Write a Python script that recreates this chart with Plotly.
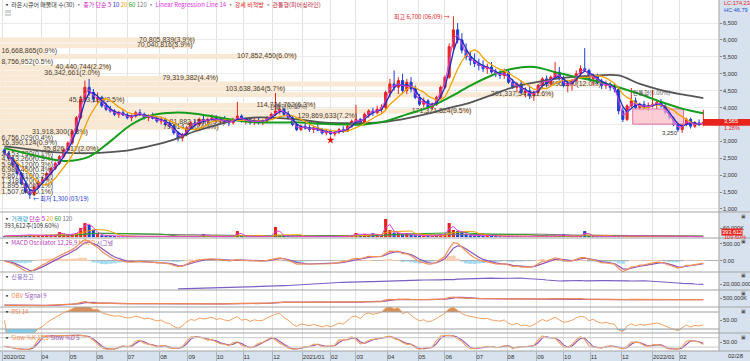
import numpy as np
import pandas as pd
import plotly.graph_objects as go
from plotly.subplots import make_subplots

# ---------------- data ----------------
tick_days = [0, 27, 47, 66, 88, 111, 131, 151, 170, 191, 212, 232, 250, 272, 294, 313, 335, 357, 378, 397, 416, 438, 460, 479]
tick_text = ["2020/02", "04", "05", "06", "07", "08", "09", "10", "11", "12", "2021/01", "02", "03",
             "04", "05", "06", "07", "08", "09", "10", "11", "12", "2022/01", "02"]

opens = [2750, 2650, 2500, 2300, 2050, 1750, 1500, 1420, 1650, 1800,
         1880, 2050, 2200, 2350, 2550, 2750, 2950, 3300, 3700, 4250,
         4600, 4450, 4250, 4300, 4050, 3950, 3900, 3800, 3850, 3780,
         3700, 3750, 3850, 3800, 3700, 3750, 3680, 3600, 3650, 3500,
         3450, 3250, 3100, 3200, 3400, 3550, 3500, 3650, 3600, 3650,
         3700, 3600, 3650, 3580, 3550, 3650, 3750, 3600, 3650, 3550,
         3620, 3580, 3600, 3700, 3800, 3900, 3950, 3800, 3700, 3500,
         3350, 3450, 3400, 3350, 3400, 3330, 3250, 3300, 3220, 3280,
         3350, 3300, 3450, 3600, 3650, 3550, 3800, 3900, 3850, 3950,
         4000, 4450, 4700, 4600, 4800, 4500, 4750, 4550, 4300, 4100,
         4200, 4000, 4100, 4300, 4600, 4900, 5800, 6300, 6000, 5700,
         5500, 5400, 5300, 5250, 5150, 5200, 5050, 5000, 4950, 5050,
         4750, 4600, 4700, 4450, 4500, 4350, 4450, 4650, 4850, 4700,
         4900, 5050, 4850, 4650, 4700, 4800, 5000, 5150, 5100, 4850,
         4950, 4750, 4650, 4700, 4600, 4550, 3900, 3650, 4050, 4200,
         4000, 4100, 4000, 4050, 4100, 4150, 4050, 3850, 3700, 3500,
         3350, 3500, 3650, 3450, 3550, 3500]
highs = [2800, 2700, 2550, 2350, 2100, 1800, 1560, 1700, 1850, 1950,
         2100, 2250, 2400, 2600, 2800, 3000, 3350, 3750, 4350, 4800,
         4850, 4550, 4450, 4350, 4150, 4050, 3950, 3900, 3950, 3850,
         3800, 3900, 3950, 3850, 3800, 3850, 3750, 3700, 3700, 3600,
         3500, 3300, 3250, 3450, 3600, 3650, 3700, 3750, 3700, 3800,
         3780, 3700, 3750, 3650, 3700, 4170, 3800, 3700, 3700, 3680,
         3700, 3650, 3750, 3850, 4430, 4050, 4000, 3900, 3750, 3550,
         3500, 3550, 3500, 3450, 3500, 3400, 3350, 3350, 3300, 3400,
         3450, 3500, 3650, 4080, 3700, 3850, 3950, 4000, 4050, 4100,
         4500, 4850, 5100, 4900, 5000, 4850, 4900, 4650, 4400, 4300,
         4250, 4150, 4350, 4650, 4950, 5900, 6700, 6500, 6200, 5900,
         5650, 5600, 5450, 5400, 5300, 5350, 5150, 5100, 5150, 5100,
         4850, 4750, 4800, 4600, 4650, 4500, 4700, 4900, 4950, 4950,
         5350, 5200, 4950, 4800, 4850, 5100, 5250, 5760, 5150, 5000,
         5000, 4850, 4800, 4750, 4700, 4600, 4000, 4100, 4580, 4300,
         4150, 4200, 4150, 4520, 4200, 4250, 4100, 3950, 3750, 3600,
         3550, 3700, 3700, 3600, 3650, 3930]
lows = [2600, 2450, 2250, 2000, 1700, 1450, 1300, 1400, 1600, 1750,
        1850, 2000, 2150, 2300, 2500, 2700, 2900, 3250, 3650, 4150,
        4350, 4150, 4100, 4000, 3900, 3850, 3750, 3700, 3750, 3650,
        3600, 3700, 3750, 3650, 3600, 3650, 3550, 3500, 3450, 3400,
        3200, 3000, 3000, 3150, 3350, 3450, 3450, 3550, 3500, 3600,
        3550, 3500, 3550, 3450, 3500, 3600, 3550, 3500, 3500, 3480,
        3500, 3480, 3550, 3650, 3750, 3800, 3750, 3650, 3450, 3300,
        3300, 3350, 3280, 3250, 3300, 3200, 3180, 3180, 3150, 3220,
        3250, 3280, 3400, 3550, 3500, 3500, 3700, 3750, 3800, 3850,
        3950, 4300, 4500, 4400, 4400, 4400, 4450, 4250, 4050, 4000,
        3950, 3930, 4050, 4250, 4550, 4850, 5700, 5900, 5600, 5400,
        5250, 5200, 5100, 5050, 5000, 5000, 4900, 4850, 4850, 4700,
        4550, 4450, 4400, 4300, 4250, 4200, 4400, 4550, 4600, 4650,
        4850, 4800, 4600, 4450, 4500, 4750, 4900, 5050, 4800, 4650,
        4700, 4550, 4550, 4500, 4450, 3800, 3570, 3600, 4000, 3950,
        3930, 3950, 3900, 4000, 3950, 4000, 3800, 3650, 3450, 3280,
        3250, 3450, 3380, 3400, 3450, 3450]
closes = [2650, 2500, 2300, 2050, 1750, 1500, 1420, 1650, 1800, 1880,
          2050, 2200, 2350, 2550, 2750, 2950, 3300, 3700, 4250, 4600,
          4450, 4250, 4300, 4050, 3950, 3900, 3800, 3850, 3780, 3700,
          3750, 3850, 3800, 3700, 3750, 3680, 3600, 3650, 3500, 3450,
          3250, 3100, 3200, 3400, 3550, 3500, 3650, 3600, 3650, 3700,
          3600, 3650, 3580, 3550, 3650, 3750, 3600, 3650, 3550, 3620,
          3580, 3600, 3700, 3800, 3900, 3950, 3800, 3700, 3500, 3350,
          3450, 3400, 3350, 3400, 3330, 3250, 3300, 3220, 3280, 3350,
          3300, 3450, 3600, 3650, 3550, 3800, 3900, 3850, 3950, 4000,
          4450, 4700, 4600, 4800, 4500, 4750, 4550, 4300, 4100, 4200,
          4000, 4100, 4300, 4600, 4900, 5800, 6300, 6000, 5700, 5500,
          5400, 5300, 5250, 5150, 5200, 5050, 5000, 4950, 5050, 4750,
          4600, 4700, 4450, 4500, 4350, 4450, 4650, 4850, 4700, 4900,
          5050, 4850, 4650, 4700, 4800, 5000, 5150, 5100, 4850, 4950,
          4750, 4650, 4700, 4600, 4550, 3900, 3650, 4050, 4200, 4000,
          4100, 4000, 4050, 4100, 4150, 4050, 3850, 3700, 3500, 3350,
          3500, 3650, 3450, 3550, 3500, 3565]
volume_k = [6000, 7000, 8000, 9000, 12000, 14000, 15000, 12000, 9000, 8000,
            9000, 10000, 11000, 33000, 15000, 14000, 20000, 27000, 60000, 93000,
            80000, 47000, 20000, 12000, 9000, 8000, 7000, 6000, 5000, 5000,
            6000, 5000, 4000, 5000, 4000, 5000, 4000, 4000, 5000, 4000,
            6000, 7000, 5000, 5000, 6000, 4000, 5000, 20000, 5000, 4000,
            5000, 4000, 4000, 5000, 4000, 40000, 8000, 5000, 4000, 4000,
            4000, 5000, 4000, 6000, 67000, 12000, 8000, 6000, 5000, 5000,
            4000, 4000, 4000, 4000, 4000, 5000, 4000, 5000, 4000, 4000,
            4000, 8000, 10000, 27000, 8000, 22000, 15000, 25000, 10000, 9000,
            120000, 47000, 30000, 27000, 18000, 27000, 15000, 12000, 10000, 8000,
            8000, 7000, 12000, 18000, 20000, 93000, 47000, 40000, 33000, 15000,
            12000, 10000, 9000, 8000, 14000, 8000, 7000, 6000, 6000, 7000,
            6000, 5000, 6000, 5000, 5000, 5000, 6000, 7000, 6000, 6000,
            8000, 6000, 20000, 6000, 5000, 6000, 7000, 40000, 7000, 6000,
            5000, 5000, 5000, 5000, 5000, 9000, 10000, 7000, 9000, 6000,
            5000, 5000, 5000, 9000, 5000, 5000, 5000, 5000, 5000, 6000,
            5000, 5000, 5000, 4000, 5000, 394]
credit_m = [None] * 41 + [
    15.1, 15.2, 15.3, 15.4, 15.5, 15.6, 15.8, 15.9, 16.0,
    16.1, 16.3, 16.4, 16.5, 16.6, 16.8, 16.9, 17.0, 17.1, 17.2,
    17.3, 17.4, 17.5, 17.6, 17.9, 18.1, 18.3, 18.5, 18.8, 19.1,
    19.4, 19.7, 20.0, 20.3, 20.6, 20.9, 21.2, 21.6, 21.8, 21.5,
    21.7, 21.9, 22.0, 22.2, 22.1, 22.3, 22.4, 22.3, 22.4, 22.5,
    22.3, 22.6, 22.8, 22.7, 23.0, 23.2, 23.1, 23.4, 23.8, 24.0,
    23.9, 24.1, 24.0, 24.2, 24.3, 24.0, 24.4, 24.8, 25.0, 25.2,
    25.5, 25.7, 25.9, 25.8, 26.0, 25.9, 25.7, 25.8, 26.0, 25.9,
    25.7, 25.6, 25.8, 25.5, 25.4, 25.2, 24.8, 24.5, 24.0, 23.6,
    23.3, 23.0, 23.2, 23.4, 23.1, 23.3, 23.5, 23.2, 23.4, 23.6,
    23.5, 23.3, 23.4, 23.5, 23.3, 23.1, 23.4, 23.2, 23.0, 23.3,
    23.4, 23.2, 23.0, 22.8, 22.5, 22.3, 22.0, 21.7, 21.4, 21.0,
    20.6, 20.8, 20.4, 20.0, 19.8, 19.6]
# 60- and 120-day averages read every 5th candle
ma60_read = [2800, 2650, 2500, 2420, 2550, 3000, 3500, 3780, 3850, 3820, 3720, 3620, 3560, 3560,
             3560, 3520, 3500, 3500, 3600, 3800, 4000, 4300, 4650, 4950, 5150, 5200, 5050, 4900,
             4780, 4600, 4400, 4170, 3970, 3830]
ma120_read = [2850, 2780, 2700, 2660, 2650, 2680, 2750, 2880, 3050, 3300, 3480, 3640, 3710, 3690,
              3640, 3560, 3540, 3540, 3580, 3680, 3820, 3990, 4150, 4370, 4600, 4740, 4850, 4910,
              4950, 4950, 4700, 4520, 4390, 4280]
# volume profile (매물대)
profile_price = [6000, 5830, 5670, 5510, 5350, 5190, 5020, 4860, 4700, 4540, 4380, 4220, 4060, 3900,
                 3740, 3580, 3420, 3260, 3100, 2940, 2780, 2620, 2460, 2300, 2140, 1980, 1820, 1660, 1500]
profile_vol = [70805839, 70040816, 16668865, 107852450, 8756952, 40440744, 36342661, 79319382,
               218496370, 103638364, 201337547, 45263180, 114724762, 171371824, 129869633, 81882158,
               79514260, 31918300, 6756029, 16390124, 35826417, 2153730, 4913260, 5989120, 6989450,
               2867310, 1318770, 1895590, 1507640]
profile_pct = ["3.9", "3.9", "0.9", "6.0", "0.5", "2.2", "2.0", "4.4", "12.0", "5.7", "11.6", "2.5",
               "6.3", "9.5", "7.2", "4.5", "4.4", "1.8", "0.4", "0.9", "2.0", "0.1", "0.3", "0.3",
               "0.4", "0.2", "0.1", "0.1", "0.1"]
box_days = [446, 482]
box_prices = [3510, 3960]
star_bar = 77
star_price = 3040
pattern_days = [189, 446]
pattern_prices = [3990, 4430]

# ---------------- derived indicators ----------------
n = len(closes)
days = [3 * i + 1 for i in range(n)]
c = pd.Series(closes, dtype=float)
o = pd.Series(opens, dtype=float)
h = pd.Series(highs, dtype=float)
l = pd.Series(lows, dtype=float)
v = pd.Series(volume_k, dtype=float)

ma5 = c.rolling(2, min_periods=1).mean()
ma10 = c.rolling(3, min_periods=1).mean()
ma20 = c.rolling(7, min_periods=1).mean()

macd = c.ewm(span=4, adjust=False).mean() - c.ewm(span=9, adjust=False).mean()
signal = macd.ewm(span=3, adjust=False).mean()
osc = macd - signal

obv = (np.sign(c.diff().fillna(0)) * v).cumsum()
obv_sig = obv.rolling(3, min_periods=1).mean()

delta = c.diff().fillna(0)
up = delta.clip(lower=0).ewm(alpha=1 / 11, adjust=False).mean()
dn = (-delta.clip(upper=0)).ewm(alpha=1 / 11, adjust=False).mean()
rsi = 100 - 100 / (1 + up / dn.replace(0, np.nan))
rsi = rsi.fillna(50)

hh = h.rolling(4, min_periods=1).max()
ll = l.rolling(4, min_periods=1).min()
fastk = (c - ll) / (hh - ll) * 100
slowk = fastk.rolling(2, min_periods=1).mean()
slowd = slowk.rolling(2, min_periods=1).mean()

# ---------------- layout helpers ----------------
W, H = 750, 361
ML, MR, MT, MB = 0, 31, 0, 10
PW, PH = W - ML - MR, H - MT - MB
bounds = [0, 212, 238, 272, 290, 307, 333, 351]
heights = [bounds[k + 1] - bounds[k] for k in range(7)]
x_rng = [-2.12, 507.1]
px_per_day = PW / (x_rng[1] - x_rng[0])


def xp(px):
    return px / PW


def yp(py):
    return 1 - py / PH


LF = "Liberation Sans, Arial, sans-serif"
KF = "Noto Sans CJK KR, sans-serif"
RED = "#e8231c"
BLUE = "#1d3fd6"

fig = make_subplots(rows=7, cols=1, shared_xaxes=True, vertical_spacing=0, row_heights=heights)

# volume profile bars
prof_len = [vv / 1e6 * 2.75 / px_per_day for vv in profile_vol]
fig.add_trace(go.Bar(y=profile_price, x=prof_len, base=x_rng[0], orientation="h", width=150,
                     marker=dict(color="#f8e8d4", line=dict(width=0)), hoverinfo="skip"), row=1, col=1)
prof_text, prof_x, prof_pos = [], [], []
for vv, pp, ln in zip(profile_vol, profile_pct, prof_len):
    t = f"{vv:,}({pp}%)"
    prof_text.append(t)
    if ln * px_per_day > len(t) * 3.6:
        prof_x.append(x_rng[0] + ln)
        prof_pos.append("middle left")
    else:
        prof_x.append(x_rng[0] + 1)
        prof_pos.append("middle right")
fig.add_trace(go.Scatter(x=prof_x, y=profile_price, mode="text", text=prof_text, textposition=prof_pos,
                         textfont=dict(size=7, color="#4d4230", family=LF), hoverinfo="skip"), row=1, col=1)

# pink box
fig.add_trace(go.Scatter(x=[box_days[0], box_days[1], box_days[1], box_days[0], box_days[0]],
                         y=[box_prices[0], box_prices[0], box_prices[1], box_prices[1], box_prices[0]],
                         mode="lines", fill="toself", fillcolor="rgba(250,190,200,0.75)",
                         line=dict(color="#e070a0", width=1), hoverinfo="skip"), row=1, col=1)

# moving averages (long)
fig.add_trace(go.Scatter(x=days[::5], y=ma120_read, mode="lines", line=dict(color="#555555", width=1.8, shape="spline"),
                         hoverinfo="skip"), row=1, col=1)
fig.add_trace(go.Scatter(x=days[::5], y=ma60_read, mode="lines", line=dict(color="#169c1c", width=2, shape="spline"),
                         hoverinfo="skip"), row=1, col=1)
fig.add_trace(go.Scatter(x=days, y=ma20, mode="lines", line=dict(color="#f2a100", width=1.3), hoverinfo="skip"), row=1, col=1)
fig.add_trace(go.Candlestick(x=days, open=opens, high=highs, low=lows, close=closes, whiskerwidth=0,
                             increasing=dict(line=dict(color=RED, width=1), fillcolor=RED),
                             decreasing=dict(line=dict(color=BLUE, width=1), fillcolor=BLUE),
                             hoverinfo="skip"), row=1, col=1)
fig.add_trace(go.Scatter(x=days, y=ma10, mode="lines", line=dict(color="#1a2fc0", width=1.3), hoverinfo="skip"), row=1, col=1)
fig.add_trace(go.Scatter(x=days, y=ma5, mode="lines", line=dict(color="#e040d8", width=1), hoverinfo="skip"), row=1, col=1)
fig.add_trace(go.Scatter(x=[days[star_bar]], y=[star_price], mode="markers",
                         marker=dict(symbol="star", size=6, color="#e01010"), hoverinfo="skip"), row=1, col=1)
fig.add_trace(go.Scatter(x=pattern_days, y=pattern_prices, mode="text", text=["관통형(0.00%)", "관통형(0.00%)"],
                         textposition="middle right", textfont=dict(size=6, color="#555555", family=KF),
                         hoverinfo="skip"), row=1, col=1)

# volume
vcol = [RED if cc >= oo else BLUE for cc, oo in zip(closes, opens)]
fig.add_trace(go.Bar(x=days, y=volume_k, marker=dict(color=vcol, line=dict(width=0)), width=2.2,
                     hoverinfo="skip"), row=2, col=1)
for win, col in [(40, "#777777"), (20, "#2aa02a"), (7, "#f2a100"), (2, "#e040d8")]:
    fig.add_trace(go.Scatter(x=days, y=v.rolling(win, min_periods=1).mean(), mode="lines",
                             line=dict(color=col, width=1), hoverinfo="skip"), row=2, col=1)

# MACD
ocol = ["#f8cdb0" if q >= 0 else "#a6dcf2" for q in osc]
fig.add_trace(go.Bar(x=days, y=osc, marker=dict(color=ocol, line=dict(width=0)), width=3, hoverinfo="skip"), row=3, col=1)
fig.add_trace(go.Scatter(x=days, y=signal, mode="lines", line=dict(color="#8e55b8", width=1.2), hoverinfo="skip"), row=3, col=1)
fig.add_trace(go.Scatter(x=days, y=macd, mode="lines", line=dict(color="#f3915a", width=1.2), hoverinfo="skip"), row=3, col=1)

# credit balance
fig.add_trace(go.Scatter(x=days, y=[None if q is None else q * 1e6 for q in credit_m], mode="lines",
                         line=dict(color="#7b5fc4", width=1.2), hoverinfo="skip"), row=4, col=1)

# OBV
fig.add_trace(go.Scatter(x=days, y=obv_sig, mode="lines", line=dict(color="#9a55b8", width=1.3), hoverinfo="skip"), row=5, col=1)
fig.add_trace(go.Scatter(x=days, y=obv, mode="lines", line=dict(color="#f08a50", width=1.2), hoverinfo="skip"), row=5, col=1)

# RSI
fig.add_trace(go.Scatter(x=days, y=[70] * n, mode="lines", line=dict(width=0), hoverinfo="skip"), row=6, col=1)
fig.add_trace(go.Scatter(x=days, y=np.maximum(rsi, 70), mode="lines", line=dict(width=0), fill="tonexty",
                         fillcolor="#d8905a", hoverinfo="skip"), row=6, col=1)
fig.add_trace(go.Scatter(x=days, y=[30] * n, mode="lines", line=dict(width=0), hoverinfo="skip"), row=6, col=1)
fig.add_trace(go.Scatter(x=days, y=np.minimum(rsi, 30), mode="lines", line=dict(width=0), fill="tonexty",
                         fillcolor="#80cfee", hoverinfo="skip"), row=6, col=1)
fig.add_trace(go.Scatter(x=days, y=rsi, mode="lines", line=dict(color="#f4a060", width=1), hoverinfo="skip"), row=6, col=1)

# Slow stochastic
fig.add_trace(go.Scatter(x=days, y=slowd, mode="lines", line=dict(color="#9050b0", width=1.1), hoverinfo="skip"), row=7, col=1)
fig.add_trace(go.Scatter(x=days, y=slowk, mode="lines", line=dict(color="#f4a060", width=1.1), hoverinfo="skip"), row=7, col=1)

# ---------------- axes ----------------
tickfont = dict(size=5.6, color="#333333", family=LF)
fig.update_xaxes(range=x_rng, tickvals=tick_days, ticktext=tick_text, showgrid=True, gridcolor="#e2e2e2",
                 gridwidth=1, zeroline=False, showline=False, rangeslider_visible=False, ticks="")
fig.update_xaxes(row=7, col=1, showticklabels=True, ticks="outside", ticklen=10, tickcolor="#a8b6c4",
                 ticklabelposition="outside right", tickfont=dict(size=6, color="#333333", family=LF))
fig.update_yaxes(side="right", zeroline=False, showgrid=False, tickfont=tickfont, ticks="outside",
                 ticklen=2, tickcolor="#888888", fixedrange=True)
price_ticks = list(range(1000, 7000, 500))
fig.update_yaxes(row=1, col=1, range=[911, 7183], tickvals=price_ticks,
                 ticktext=["" if t == 3500 else f"{t:,}" for t in price_ticks],
                 showgrid=True, gridcolor="#ebebeb")
fig.update_yaxes(row=2, col=1, range=[-6000, 166000], tickvals=[60000], ticktext=["60,000K"])
fig.update_yaxes(row=3, col=1, range=[-324, 676], tickvals=[0, 500], ticktext=["0.00", "500.00"],
                 zeroline=True, zerolinecolor="#b0b0b0", zerolinewidth=1)
fig.update_yaxes(row=4, col=1, range=[14e6, 32e6], tickvals=[20e6], ticktext=["20,000,000"])
omin, omax = float(obv.min()), float(obv.max())
ospan = max(omax - omin, 1.0)
olo = omin - ospan / 9
fig.update_yaxes(row=5, col=1, range=[olo, olo + ospan * 17 / 9], tickvals=[500000], ticktext=["500,000K"])
fig.update_yaxes(row=6, col=1, range=[20.6, 81.8], tickvals=[50], ticktext=["50.00"])
fig.update_yaxes(row=7, col=1, range=[-5, 110], tickvals=[50], ticktext=["50.00"])

for lvl in (70, 30):
    fig.add_hline(y=lvl, row=6, col=1, line=dict(color="#a0a0a0", width=1))
for lvl in (80, 20):
    fig.add_hline(y=lvl, row=7, col=1, line=dict(color="#c8c8c8", width=1))

# panel separators
for py in bounds[1:]:
    fig.add_shape(type="line", xref="paper", yref="paper", x0=0, x1=W / PW, y0=yp(py), y1=yp(py),
                  line=dict(color="#a4a4a4", width=1))
fig.add_shape(type="line", xref="paper", yref="paper", x0=1, x1=1, y0=0, y1=1, line=dict(color="#a4a4a4", width=1))

# current price marker
last = closes[-1]
fig.add_shape(type="rect", xref="paper", yref="y", x0=xp(703), x1=xp(750), y0=last - 100, y1=last + 100,
              fillcolor=RED, line=dict(width=0))


def ann(px, py, text, size=6, color="#333333", family=KF, anchor="left", **kw):
    fig.add_annotation(x=xp(px), y=yp(py), xref="paper", yref="paper", text=text, showarrow=False,
                       xanchor=anchor, yanchor="middle", font=dict(size=size, color=color, family=family), **kw)


ann(722, 121, f"{last:,}", size=5.6, color="white", family=LF)
ann(722, 128, "1.28%", size=5.6, color=RED, family=LF)
ann(722, 3, "LC:174.23", size=5.6, color=RED, family=LF)
ann(722, 10, "HC:46.79", size=5.6, color="#2050d0", family=LF)
ann(721, 232, "393,612", size=5.6, color="white", family=LF, bgcolor=RED, borderpad=0)
ann(722, 237, "109.60%", size=5.6, color=RED, family=LF)
ann(726, 356, "02/28", size=6, color="#333333", family=LF)
for py in (216, 241, 275, 293, 311, 337):
    ann(748, py, "▣", size=5, color="#555555", family=LF, anchor="right")

# legends
ann(2, 5, "▪ 라온시큐어 매물대 수(30) <span style='color:#999'>▪</span> <span style='color:#d020c0'>종가 단순 5</span> "
          "<span style='color:#1a2fc0'>10</span> <span style='color:#f2a100'>20</span> "
          "<span style='color:#169c1c'>60</span> <span style='color:#777'>120</span> "
          "<span style='color:#999'>▪</span> <span style='color:#e030e0'>Linear Regression Line 14</span> "
          "<span style='color:#999'>▪</span> <span style='color:#e02020'>강세 비적방</span> "
          "<span style='color:#999'>▪</span> <span style='color:#c0203a'>관통형(피어싱라인)</span>")
ann(3, 13, "▤", color="#666666")
ann(2, 218, "▪ <span style='color:#2a9fc8'>거래량</span> <span style='color:#d020c0'>단순 5</span> "
            "<span style='color:#f2a100'>20</span> <span style='color:#169c1c'>60</span> "
            "<span style='color:#777'>120</span>")
ann(2, 225, "393,612주(109.60%)")
ann(2, 242, "▪ <span style='color:#c040c0'>MACD Oscillator 12,26,9</span> <span style='color:#f3915a'>MACD</span> "
            "<span style='color:#8e55b8'>시그널</span>")
ann(2, 276, "▪ <span style='color:#7b5fc4'>신용잔고</span>")
ann(2, 295, "▪ <span style='color:#f08a50'>OBV</span> <span style='color:#9a55b8'>Signal 9</span>")
ann(2, 311, "▪ <span style='color:#f08a50'>RSI 14</span>")
ann(2, 337, "▪ <span style='color:#f08a50'>Slow %K 12,5</span> <span style='color:#9a55b8'>Slow %D 5</span>")

# high / low marks
ih = int(np.argmax(highs))
il = int(np.argmin(lows))
fig.add_annotation(x=days[ih], y=highs[ih], xref="x", yref="y", text="최고 6,700 (06/09) →", showarrow=False,
                   xanchor="right", yanchor="middle", xshift=-1, font=dict(size=6, color="#e02020", family=KF))
fig.add_annotation(x=days[il], y=lows[il], xref="x", yref="y", text="← 최저 1,300 (03/19)", showarrow=False,
                   xanchor="left", yanchor="middle", xshift=1, font=dict(size=6, color="#2030d0", family=KF))
i_recent = 150 + int(np.argmin(lows[150:]))
fig.add_annotation(x=days[i_recent], y=lows[i_recent], xref="x", yref="y", text=f"{lows[i_recent]:,}",
                   showarrow=False, xanchor="right", yanchor="middle", xshift=-2,
                   font=dict(size=6, color="#333333", family=LF))

fig.update_layout(width=W, height=H, margin=dict(l=ML, r=MR, t=MT, b=MB, autoexpand=False),
                  paper_bgcolor="#d7e2ee", plot_bgcolor="white", showlegend=False, barmode="overlay",
                  hovermode=False, font=dict(family=LF, size=6))
fig.write_html("out.html", config={"displayModeBar": False, "staticPlot": True},
               post_script="document.body.style.margin='0px';document.body.style.padding='0px';"
                           "document.body.style.overflow='hidden';")
